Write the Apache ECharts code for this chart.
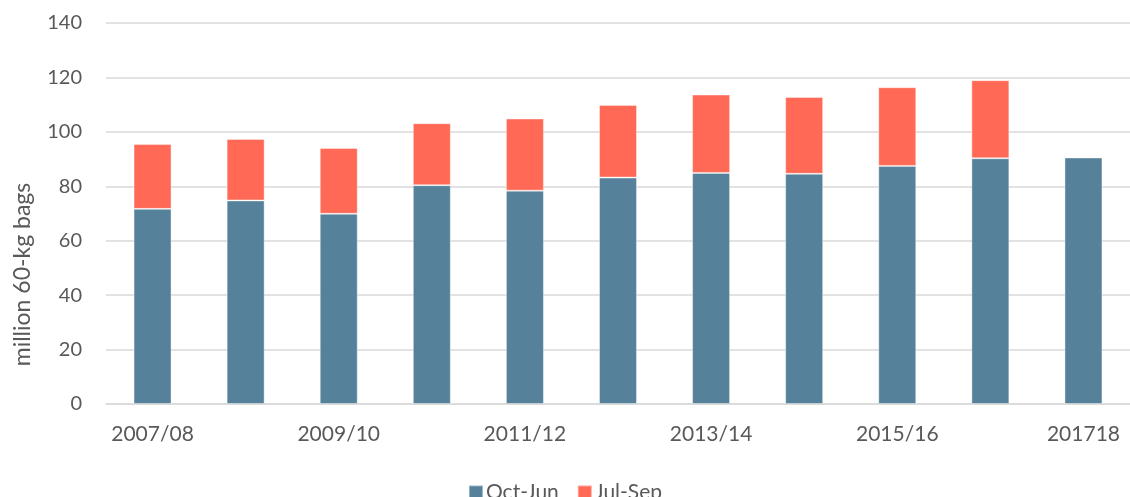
<!DOCTYPE html>
<html>
<head>
<meta charset="utf-8">
<script src="https://cdn.jsdelivr.net/npm/echarts@6/dist/echarts.min.js"></script>
<style>
  html, body { margin: 0; padding: 0; background: #fff; }
  #container { width: 1130px; height: 497px; }
</style>
</head>
<body>
<div id="container"></div>
<script>
var years = ['2007/08', '2008/09', '2009/10', '2010/11', '2011/12', '2012/13',
             '2013/14', '2014/15', '2015/16', '2016/17', '201718'];
var octJun = [71.7, 74.8, 69.9, 80.4, 78.4, 83.2, 84.9, 84.6, 87.5, 90.3, 90.6];
var julSep = [23.8, 22.6, 24.2, 22.8, 26.5, 26.7, 28.8, 28.2, 28.9, 28.7, '-'];

var dom = document.getElementById('container');
var myChart = echarts.init(dom);

var option = {
    animation: false,
    textStyle: { fontFamily: 'Lato' },
    grid: {
        left: 106,
        right: 0,
        top: 23,
        bottom: 93
    },
    legend: {
        top: 477,
        left: 'center',
        itemWidth: 14,
        itemHeight: 14,
        itemGap: 18,
        icon: 'rect',
        textStyle: { fontSize: 21, color: '#595959', padding: [0, 0, 0, -2] },
        data: ['Oct-Jun', 'Jul-Sep']
    },
    xAxis: {
        type: 'category',
        data: years,
        axisLine: { lineStyle: { color: '#d9d9d9', width: 1.5 } },
        axisTick: { show: false },
        axisLabel: {
            interval: 1,
            fontSize: 21,
            color: '#595959',
            margin: 20
        }
    },
    yAxis: {
        type: 'value',
        min: 0,
        max: 140,
        interval: 20,
        name: 'million 60-kg bags',
        nameLocation: 'middle',
        nameGap: 72,
        nameTextStyle: {
            fontSize: 23,
            color: '#595959',
            padding: [0, 122, 0, 0]
        },
        axisLine: { show: false },
        axisTick: { show: false },
        axisLabel: { fontSize: 20, color: '#595959', margin: 24 },
        splitLine: { lineStyle: { color: '#d9d9d9', width: 1.5 } }
    },
    series: [
        {
            name: 'Oct-Jun',
            type: 'bar',
            stack: 'total',
            barWidth: 38,
            itemStyle: { color: '#55829A', borderColor: 'rgba(255,255,255,0.4)', borderWidth: 1 },
            data: octJun
        },
        {
            name: 'Jul-Sep',
            type: 'bar',
            stack: 'total',
            barWidth: 38,
            itemStyle: { color: '#FF6955', borderColor: 'rgba(255,255,255,0.4)', borderWidth: 1 },
            data: julSep
        }
    ]
};

myChart.setOption(option);
</script>
</body>
</html>
